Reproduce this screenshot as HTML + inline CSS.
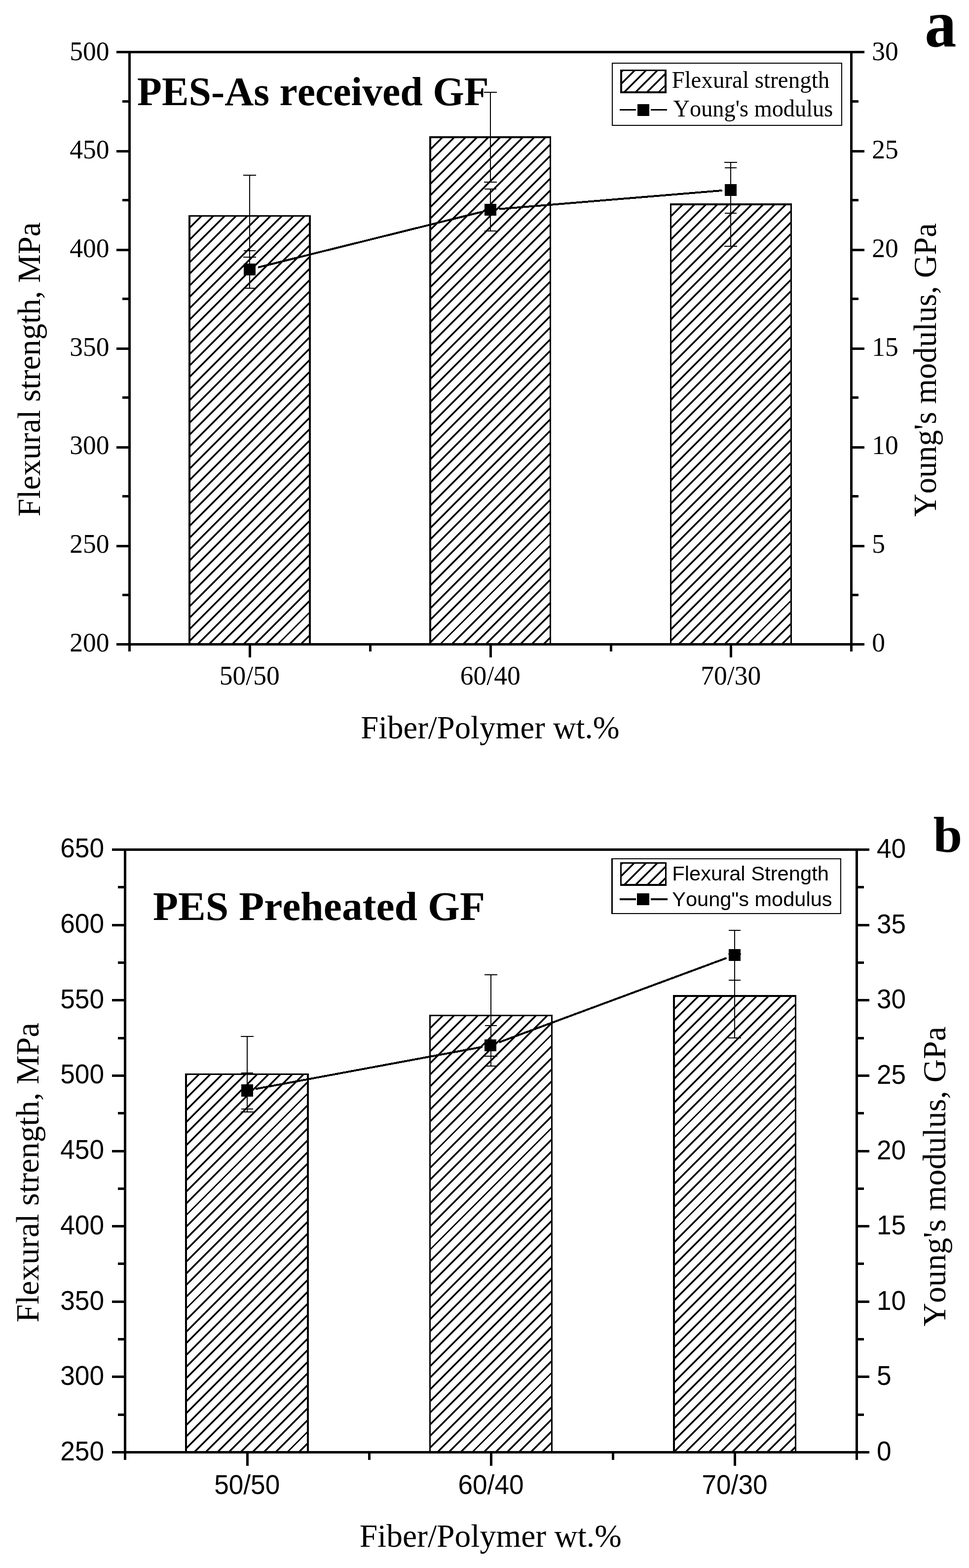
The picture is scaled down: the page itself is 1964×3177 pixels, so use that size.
<!DOCTYPE html>
<html lang="en"><head><meta charset="utf-8"><title>Flexural strength and Young's modulus of PES/GF composites</title>
<style>
html,body{margin:0;padding:0;background:#fff;}
body{width:1964px;height:3177px;overflow:hidden;}
svg{display:block;}
text{white-space:pre;font-kerning:none;}
</style></head>
<body>
<svg width="1964" height="3177" viewBox="0 0 1964 3177" fill="#000">
<rect width="1964" height="3177" fill="#fff"/>
<g id="chart-a">
<rect x="382" y="436" width="248" height="869.5" fill="#000" shape-rendering="crispEdges"/>
<rect x="386" y="439" width="240" height="866.5" fill="#fff" shape-rendering="crispEdges"/>
<clipPath id="ah0"><rect x="386" y="439" width="240" height="866.5"/></clipPath>
<path d="M380.00 419.94L632.00 167.94M380.00 443.17L632.00 191.17M380.00 466.40L632.00 214.40M380.00 489.63L632.00 237.63M380.00 512.86L632.00 260.86M380.00 536.09L632.00 284.09M380.00 559.32L632.00 307.32M380.00 582.55L632.00 330.55M380.00 605.78L632.00 353.78M380.00 629.01L632.00 377.01M380.00 652.24L632.00 400.24M380.00 675.47L632.00 423.47M380.00 698.70L632.00 446.70M380.00 721.93L632.00 469.93M380.00 745.16L632.00 493.16M380.00 768.39L632.00 516.39M380.00 791.62L632.00 539.62M380.00 814.85L632.00 562.85M380.00 838.08L632.00 586.08M380.00 861.31L632.00 609.31M380.00 884.54L632.00 632.54M380.00 907.77L632.00 655.77M380.00 931.00L632.00 679.00M380.00 954.23L632.00 702.23M380.00 977.46L632.00 725.46M380.00 1000.69L632.00 748.69M380.00 1023.92L632.00 771.92M380.00 1047.15L632.00 795.15M380.00 1070.38L632.00 818.38M380.00 1093.61L632.00 841.61M380.00 1116.84L632.00 864.84M380.00 1140.07L632.00 888.07M380.00 1163.30L632.00 911.30M380.00 1186.53L632.00 934.53M380.00 1209.76L632.00 957.76M380.00 1232.99L632.00 980.99M380.00 1256.22L632.00 1004.22M380.00 1279.45L632.00 1027.45M380.00 1302.68L632.00 1050.68M380.00 1325.91L632.00 1073.91M380.00 1349.14L632.00 1097.14M380.00 1372.37L632.00 1120.37M380.00 1395.60L632.00 1143.60M380.00 1418.83L632.00 1166.83M380.00 1442.06L632.00 1190.06M380.00 1465.29L632.00 1213.29M380.00 1488.52L632.00 1236.52M380.00 1511.75L632.00 1259.75M380.00 1534.98L632.00 1282.98M380.00 1558.21L632.00 1306.21M380.00 1581.44L632.00 1329.44" stroke="#000" stroke-width="3.5" fill="none" clip-path="url(#ah0)" shape-rendering="crispEdges"/>
<rect x="870" y="276" width="247" height="1029.5" fill="#000" shape-rendering="crispEdges"/>
<rect x="874" y="280" width="240" height="1025.5" fill="#fff" shape-rendering="crispEdges"/>
<clipPath id="ah1"><rect x="874" y="280" width="240" height="1025.5"/></clipPath>
<path d="M868.00 260.94L1120.00 8.94M868.00 284.17L1120.00 32.17M868.00 307.40L1120.00 55.40M868.00 330.63L1120.00 78.63M868.00 353.86L1120.00 101.86M868.00 377.09L1120.00 125.09M868.00 400.32L1120.00 148.32M868.00 423.55L1120.00 171.55M868.00 446.78L1120.00 194.78M868.00 470.01L1120.00 218.01M868.00 493.24L1120.00 241.24M868.00 516.47L1120.00 264.47M868.00 539.70L1120.00 287.70M868.00 562.93L1120.00 310.93M868.00 586.16L1120.00 334.16M868.00 609.39L1120.00 357.39M868.00 632.62L1120.00 380.62M868.00 655.85L1120.00 403.85M868.00 679.08L1120.00 427.08M868.00 702.31L1120.00 450.31M868.00 725.54L1120.00 473.54M868.00 748.77L1120.00 496.77M868.00 772.00L1120.00 520.00M868.00 795.23L1120.00 543.23M868.00 818.46L1120.00 566.46M868.00 841.69L1120.00 589.69M868.00 864.92L1120.00 612.92M868.00 888.15L1120.00 636.15M868.00 911.38L1120.00 659.38M868.00 934.61L1120.00 682.61M868.00 957.84L1120.00 705.84M868.00 981.07L1120.00 729.07M868.00 1004.30L1120.00 752.30M868.00 1027.53L1120.00 775.53M868.00 1050.76L1120.00 798.76M868.00 1073.99L1120.00 821.99M868.00 1097.22L1120.00 845.22M868.00 1120.45L1120.00 868.45M868.00 1143.68L1120.00 891.68M868.00 1166.91L1120.00 914.91M868.00 1190.14L1120.00 938.14M868.00 1213.37L1120.00 961.37M868.00 1236.60L1120.00 984.60M868.00 1259.83L1120.00 1007.83M868.00 1283.06L1120.00 1031.06M868.00 1306.29L1120.00 1054.29M868.00 1329.52L1120.00 1077.52M868.00 1352.75L1120.00 1100.75M868.00 1375.98L1120.00 1123.98M868.00 1399.21L1120.00 1147.21M868.00 1422.44L1120.00 1170.44M868.00 1445.67L1120.00 1193.67M868.00 1468.90L1120.00 1216.90M868.00 1492.13L1120.00 1240.13M868.00 1515.36L1120.00 1263.36M868.00 1538.59L1120.00 1286.59M868.00 1561.82L1120.00 1309.82M868.00 1585.05L1120.00 1333.05" stroke="#000" stroke-width="3.5" fill="none" clip-path="url(#ah1)" shape-rendering="crispEdges"/>
<rect x="1358" y="412" width="247" height="893.5" fill="#000" shape-rendering="crispEdges"/>
<rect x="1361" y="416" width="241" height="889.5" fill="#fff" shape-rendering="crispEdges"/>
<clipPath id="ah2"><rect x="1361" y="416" width="241" height="889.5"/></clipPath>
<path d="M1355.00 396.94L1608.00 143.94M1355.00 420.17L1608.00 167.17M1355.00 443.40L1608.00 190.40M1355.00 466.63L1608.00 213.63M1355.00 489.86L1608.00 236.86M1355.00 513.09L1608.00 260.09M1355.00 536.32L1608.00 283.32M1355.00 559.55L1608.00 306.55M1355.00 582.78L1608.00 329.78M1355.00 606.01L1608.00 353.01M1355.00 629.24L1608.00 376.24M1355.00 652.47L1608.00 399.47M1355.00 675.70L1608.00 422.70M1355.00 698.93L1608.00 445.93M1355.00 722.16L1608.00 469.16M1355.00 745.39L1608.00 492.39M1355.00 768.62L1608.00 515.62M1355.00 791.85L1608.00 538.85M1355.00 815.08L1608.00 562.08M1355.00 838.31L1608.00 585.31M1355.00 861.54L1608.00 608.54M1355.00 884.77L1608.00 631.77M1355.00 908.00L1608.00 655.00M1355.00 931.23L1608.00 678.23M1355.00 954.46L1608.00 701.46M1355.00 977.69L1608.00 724.69M1355.00 1000.92L1608.00 747.92M1355.00 1024.15L1608.00 771.15M1355.00 1047.38L1608.00 794.38M1355.00 1070.61L1608.00 817.61M1355.00 1093.84L1608.00 840.84M1355.00 1117.07L1608.00 864.07M1355.00 1140.30L1608.00 887.30M1355.00 1163.53L1608.00 910.53M1355.00 1186.76L1608.00 933.76M1355.00 1209.99L1608.00 956.99M1355.00 1233.22L1608.00 980.22M1355.00 1256.45L1608.00 1003.45M1355.00 1279.68L1608.00 1026.68M1355.00 1302.91L1608.00 1049.91M1355.00 1326.14L1608.00 1073.14M1355.00 1349.37L1608.00 1096.37M1355.00 1372.60L1608.00 1119.60M1355.00 1395.83L1608.00 1142.83M1355.00 1419.06L1608.00 1166.06M1355.00 1442.29L1608.00 1189.29M1355.00 1465.52L1608.00 1212.52M1355.00 1488.75L1608.00 1235.75M1355.00 1511.98L1608.00 1258.98M1355.00 1535.21L1608.00 1282.21M1355.00 1558.44L1608.00 1305.44M1355.00 1581.67L1608.00 1328.67" stroke="#000" stroke-width="3.5" fill="none" clip-path="url(#ah2)" shape-rendering="crispEdges"/>
<rect x="505" y="355" width="2" height="166" fill="#000" shape-rendering="crispEdges"/>
<rect x="493" y="354" width="26" height="2" fill="#000" shape-rendering="crispEdges"/>
<rect x="493" y="520" width="26" height="2" fill="#000" shape-rendering="crispEdges"/>
<rect x="993" y="187" width="2" height="182" fill="#000" shape-rendering="crispEdges"/>
<rect x="981" y="186" width="26" height="2" fill="#000" shape-rendering="crispEdges"/>
<rect x="981" y="368" width="26" height="2" fill="#000" shape-rendering="crispEdges"/>
<rect x="1480" y="329" width="2" height="170" fill="#000" shape-rendering="crispEdges"/>
<rect x="1468" y="328" width="26" height="2" fill="#000" shape-rendering="crispEdges"/>
<rect x="1468" y="498" width="26" height="2" fill="#000" shape-rendering="crispEdges"/>
<line x1="522.99" y1="541.79" x2="977.01" y2="429.21" stroke="#000" stroke-width="4" shape-rendering="crispEdges"/>
<line x1="1011.44" y1="423.55" x2="1463.56" y2="385.95" stroke="#000" stroke-width="4" shape-rendering="crispEdges"/>
<rect x="505" y="508" width="2" height="75.5" fill="#000" shape-rendering="crispEdges"/>
<rect x="494" y="507" width="24" height="2" fill="#000" shape-rendering="crispEdges"/>
<rect x="494" y="582.5" width="24" height="2" fill="#000" shape-rendering="crispEdges"/>
<rect x="494" y="534" width="24" height="24" fill="#000" shape-rendering="crispEdges"/>
<rect x="993" y="382.5" width="2" height="85.5" fill="#000" shape-rendering="crispEdges"/>
<rect x="982" y="381.5" width="24" height="2" fill="#000" shape-rendering="crispEdges"/>
<rect x="982" y="467" width="24" height="2" fill="#000" shape-rendering="crispEdges"/>
<rect x="982" y="413" width="24" height="24" fill="#000" shape-rendering="crispEdges"/>
<rect x="1480" y="340" width="2" height="91.5" fill="#000" shape-rendering="crispEdges"/>
<rect x="1469" y="339" width="24" height="2" fill="#000" shape-rendering="crispEdges"/>
<rect x="1469" y="430.5" width="24" height="2" fill="#000" shape-rendering="crispEdges"/>
<rect x="1469" y="372.5" width="24" height="24" fill="#000" shape-rendering="crispEdges"/>
<rect x="260" y="103" width="1468" height="5" fill="#000" shape-rendering="crispEdges"/>
<rect x="260" y="1303" width="1468" height="5" fill="#000" shape-rendering="crispEdges"/>
<rect x="260" y="103" width="5" height="1205" fill="#000" shape-rendering="crispEdges"/>
<rect x="1723" y="103" width="5" height="1205" fill="#000" shape-rendering="crispEdges"/>
<rect x="236" y="103" width="24" height="5" fill="#000" shape-rendering="crispEdges"/>
<rect x="1728" y="103" width="24" height="5" fill="#000" shape-rendering="crispEdges"/>
<rect x="248" y="203" width="12" height="5" fill="#000" shape-rendering="crispEdges"/>
<rect x="1728" y="203" width="12" height="5" fill="#000" shape-rendering="crispEdges"/>
<rect x="236" y="304" width="24" height="5" fill="#000" shape-rendering="crispEdges"/>
<rect x="1728" y="304" width="24" height="5" fill="#000" shape-rendering="crispEdges"/>
<rect x="248" y="403" width="12" height="5" fill="#000" shape-rendering="crispEdges"/>
<rect x="1728" y="403" width="12" height="5" fill="#000" shape-rendering="crispEdges"/>
<rect x="236" y="504" width="24" height="5" fill="#000" shape-rendering="crispEdges"/>
<rect x="1728" y="504" width="24" height="5" fill="#000" shape-rendering="crispEdges"/>
<rect x="248" y="603" width="12" height="5" fill="#000" shape-rendering="crispEdges"/>
<rect x="1728" y="603" width="12" height="5" fill="#000" shape-rendering="crispEdges"/>
<rect x="236" y="704" width="24" height="5" fill="#000" shape-rendering="crispEdges"/>
<rect x="1728" y="704" width="24" height="5" fill="#000" shape-rendering="crispEdges"/>
<rect x="248" y="803" width="12" height="5" fill="#000" shape-rendering="crispEdges"/>
<rect x="1728" y="803" width="12" height="5" fill="#000" shape-rendering="crispEdges"/>
<rect x="236" y="904" width="24" height="5" fill="#000" shape-rendering="crispEdges"/>
<rect x="1728" y="904" width="24" height="5" fill="#000" shape-rendering="crispEdges"/>
<rect x="248" y="1003" width="12" height="5" fill="#000" shape-rendering="crispEdges"/>
<rect x="1728" y="1003" width="12" height="5" fill="#000" shape-rendering="crispEdges"/>
<rect x="236" y="1104" width="24" height="5" fill="#000" shape-rendering="crispEdges"/>
<rect x="1728" y="1104" width="24" height="5" fill="#000" shape-rendering="crispEdges"/>
<rect x="248" y="1203" width="12" height="5" fill="#000" shape-rendering="crispEdges"/>
<rect x="1728" y="1203" width="12" height="5" fill="#000" shape-rendering="crispEdges"/>
<rect x="236" y="1303" width="24" height="5" fill="#000" shape-rendering="crispEdges"/>
<rect x="1728" y="1303" width="24" height="5" fill="#000" shape-rendering="crispEdges"/>
<rect x="504" y="1308" width="5" height="24" fill="#000" shape-rendering="crispEdges"/>
<rect x="992" y="1308" width="5" height="24" fill="#000" shape-rendering="crispEdges"/>
<rect x="1479" y="1308" width="5" height="24" fill="#000" shape-rendering="crispEdges"/>
<rect x="260" y="1308" width="5" height="12" fill="#000" shape-rendering="crispEdges"/>
<rect x="748" y="1308" width="5" height="12" fill="#000" shape-rendering="crispEdges"/>
<rect x="1236" y="1308" width="5" height="12" fill="#000" shape-rendering="crispEdges"/>
<rect x="1723" y="1308" width="5" height="12" fill="#000" shape-rendering="crispEdges"/>
<text transform="translate(221.6 121.65) scale(0.98 1)" font-family="'Liberation Serif', serif" font-size="54.6" text-anchor="end">500</text>
<text transform="translate(1767.2 121.65) scale(0.98 1)" font-family="'Liberation Serif', serif" font-size="54.6">30</text>
<text transform="translate(221.6 321.32) scale(0.98 1)" font-family="'Liberation Serif', serif" font-size="54.6" text-anchor="end">450</text>
<text transform="translate(1767.2 321.32) scale(0.98 1)" font-family="'Liberation Serif', serif" font-size="54.6">25</text>
<text transform="translate(221.6 520.99) scale(0.98 1)" font-family="'Liberation Serif', serif" font-size="54.6" text-anchor="end">400</text>
<text transform="translate(1767.2 520.99) scale(0.98 1)" font-family="'Liberation Serif', serif" font-size="54.6">20</text>
<text transform="translate(221.6 720.66) scale(0.98 1)" font-family="'Liberation Serif', serif" font-size="54.6" text-anchor="end">350</text>
<text transform="translate(1767.2 720.66) scale(0.98 1)" font-family="'Liberation Serif', serif" font-size="54.6">15</text>
<text transform="translate(221.6 920.33) scale(0.98 1)" font-family="'Liberation Serif', serif" font-size="54.6" text-anchor="end">300</text>
<text transform="translate(1767.2 920.33) scale(0.98 1)" font-family="'Liberation Serif', serif" font-size="54.6">10</text>
<text transform="translate(221.6 1120) scale(0.98 1)" font-family="'Liberation Serif', serif" font-size="54.6" text-anchor="end">250</text>
<text transform="translate(1767.2 1120) scale(0.98 1)" font-family="'Liberation Serif', serif" font-size="54.6">5</text>
<text transform="translate(221.6 1319.67) scale(0.98 1)" font-family="'Liberation Serif', serif" font-size="54.6" text-anchor="end">200</text>
<text transform="translate(1767.2 1319.67) scale(0.98 1)" font-family="'Liberation Serif', serif" font-size="54.6">0</text>
<text transform="translate(505.8 1386.6) scale(0.98 1)" font-family="'Liberation Serif', serif" font-size="54.6" text-anchor="middle">50/50</text>
<text transform="translate(993.8 1386.6) scale(0.98 1)" font-family="'Liberation Serif', serif" font-size="54.6" text-anchor="middle">60/40</text>
<text transform="translate(1481.3 1386.6) scale(0.98 1)" font-family="'Liberation Serif', serif" font-size="54.6" text-anchor="middle">70/30</text>
<rect x="1240" y="127" width="467" height="128" fill="#000" shape-rendering="crispEdges"/>
<rect x="1242" y="129" width="463" height="124" fill="#fff" shape-rendering="crispEdges"/>
<rect x="1257" y="141" width="94" height="48" fill="#000" shape-rendering="crispEdges"/>
<rect x="1261" y="144" width="86" height="41" fill="#fff" shape-rendering="crispEdges"/>
<clipPath id="alg"><rect x="1261" y="144" width="86" height="41"/></clipPath>
<path d="M1255.00 103.88L1353.00 5.88M1255.00 127.11L1353.00 29.11M1255.00 150.34L1353.00 52.34M1255.00 173.57L1353.00 75.57M1255.00 196.80L1353.00 98.80M1255.00 220.03L1353.00 122.03M1255.00 243.26L1353.00 145.26M1255.00 266.49L1353.00 168.49M1255.00 289.72L1353.00 191.72M1255.00 312.95L1353.00 214.95" stroke="#000" stroke-width="3.5" fill="none" clip-path="url(#alg)" shape-rendering="crispEdges"/>
<rect x="1256" y="221" width="33" height="3" fill="#000" shape-rendering="crispEdges"/>
<rect x="1319" y="221" width="33" height="3" fill="#000" shape-rendering="crispEdges"/>
<rect x="1292" y="211" width="24" height="24" fill="#000" shape-rendering="crispEdges"/>
<text transform="translate(731.3 1495.7)" font-family="'Liberation Serif', serif" font-size="65" textLength="524.3" lengthAdjust="spacingAndGlyphs">Fiber/Polymer wt.%</text>
<text transform="translate(81 1046.5) rotate(-90)" font-family="'Liberation Serif', serif" font-size="65" textLength="596" lengthAdjust="spacingAndGlyphs">Flexural strength, MPa</text>
<text transform="translate(1897 1047) rotate(-90)" font-family="'Liberation Serif', serif" font-size="65" textLength="595" lengthAdjust="spacingAndGlyphs">Young's modulus, GPa</text>
<text transform="translate(278.1 212.5)" font-family="'Liberation Serif', serif" font-size="81.5" font-weight="bold" textLength="712.5" lengthAdjust="spacingAndGlyphs">PES-As received GF</text>
<text transform="translate(1874.3 94) scale(0.944 1)" font-family="'Liberation Serif', serif" font-size="136" font-weight="bold">a</text>
<text transform="translate(1361.4 177.9)" font-family="'Liberation Serif', serif" font-size="48" textLength="319.8" lengthAdjust="spacingAndGlyphs">Flexural strength</text>
<text transform="translate(1364.6 235.8)" font-family="'Liberation Serif', serif" font-size="48" textLength="323.6" lengthAdjust="spacingAndGlyphs">Young's modulus</text>
</g>
<g id="chart-b">
<rect x="375" y="2175" width="251" height="767.5" fill="#000" shape-rendering="crispEdges"/>
<rect x="379" y="2178" width="243" height="764.5" fill="#fff" shape-rendering="crispEdges"/>
<clipPath id="bh0"><rect x="379" y="2178" width="243" height="764.5"/></clipPath>
<path d="M373.00 2159.46L628.00 1904.46M373.00 2183.08L628.00 1928.08M373.00 2206.70L628.00 1951.70M373.00 2230.32L628.00 1975.32M373.00 2253.94L628.00 1998.94M373.00 2277.56L628.00 2022.56M373.00 2301.18L628.00 2046.18M373.00 2324.80L628.00 2069.80M373.00 2348.42L628.00 2093.42M373.00 2372.04L628.00 2117.04M373.00 2395.66L628.00 2140.66M373.00 2419.28L628.00 2164.28M373.00 2442.90L628.00 2187.90M373.00 2466.52L628.00 2211.52M373.00 2490.14L628.00 2235.14M373.00 2513.76L628.00 2258.76M373.00 2537.38L628.00 2282.38M373.00 2561.00L628.00 2306.00M373.00 2584.62L628.00 2329.62M373.00 2608.24L628.00 2353.24M373.00 2631.86L628.00 2376.86M373.00 2655.48L628.00 2400.48M373.00 2679.10L628.00 2424.10M373.00 2702.72L628.00 2447.72M373.00 2726.34L628.00 2471.34M373.00 2749.96L628.00 2494.96M373.00 2773.58L628.00 2518.58M373.00 2797.20L628.00 2542.20M373.00 2820.82L628.00 2565.82M373.00 2844.44L628.00 2589.44M373.00 2868.06L628.00 2613.06M373.00 2891.68L628.00 2636.68M373.00 2915.30L628.00 2660.30M373.00 2938.92L628.00 2683.92M373.00 2962.54L628.00 2707.54M373.00 2986.16L628.00 2731.16M373.00 3009.78L628.00 2754.78M373.00 3033.40L628.00 2778.40M373.00 3057.02L628.00 2802.02M373.00 3080.64L628.00 2825.64M373.00 3104.26L628.00 2849.26M373.00 3127.88L628.00 2872.88M373.00 3151.50L628.00 2896.50M373.00 3175.12L628.00 2920.12M373.00 3198.74L628.00 2943.74M373.00 3222.36L628.00 2967.36" stroke="#000" stroke-width="3.5" fill="none" clip-path="url(#bh0)" shape-rendering="crispEdges"/>
<rect x="870" y="2056" width="250" height="886.5" fill="#000" shape-rendering="crispEdges"/>
<rect x="873" y="2059" width="244" height="883.5" fill="#fff" shape-rendering="crispEdges"/>
<clipPath id="bh1"><rect x="873" y="2059" width="244" height="883.5"/></clipPath>
<path d="M867.00 2040.46L1123.00 1784.46M867.00 2064.08L1123.00 1808.08M867.00 2087.70L1123.00 1831.70M867.00 2111.32L1123.00 1855.32M867.00 2134.94L1123.00 1878.94M867.00 2158.56L1123.00 1902.56M867.00 2182.18L1123.00 1926.18M867.00 2205.80L1123.00 1949.80M867.00 2229.42L1123.00 1973.42M867.00 2253.04L1123.00 1997.04M867.00 2276.66L1123.00 2020.66M867.00 2300.28L1123.00 2044.28M867.00 2323.90L1123.00 2067.90M867.00 2347.52L1123.00 2091.52M867.00 2371.14L1123.00 2115.14M867.00 2394.76L1123.00 2138.76M867.00 2418.38L1123.00 2162.38M867.00 2442.00L1123.00 2186.00M867.00 2465.62L1123.00 2209.62M867.00 2489.24L1123.00 2233.24M867.00 2512.86L1123.00 2256.86M867.00 2536.48L1123.00 2280.48M867.00 2560.10L1123.00 2304.10M867.00 2583.72L1123.00 2327.72M867.00 2607.34L1123.00 2351.34M867.00 2630.96L1123.00 2374.96M867.00 2654.58L1123.00 2398.58M867.00 2678.20L1123.00 2422.20M867.00 2701.82L1123.00 2445.82M867.00 2725.44L1123.00 2469.44M867.00 2749.06L1123.00 2493.06M867.00 2772.68L1123.00 2516.68M867.00 2796.30L1123.00 2540.30M867.00 2819.92L1123.00 2563.92M867.00 2843.54L1123.00 2587.54M867.00 2867.16L1123.00 2611.16M867.00 2890.78L1123.00 2634.78M867.00 2914.40L1123.00 2658.40M867.00 2938.02L1123.00 2682.02M867.00 2961.64L1123.00 2705.64M867.00 2985.26L1123.00 2729.26M867.00 3008.88L1123.00 2752.88M867.00 3032.50L1123.00 2776.50M867.00 3056.12L1123.00 2800.12M867.00 3079.74L1123.00 2823.74M867.00 3103.36L1123.00 2847.36M867.00 3126.98L1123.00 2870.98M867.00 3150.60L1123.00 2894.60M867.00 3174.22L1123.00 2918.22M867.00 3197.84L1123.00 2941.84M867.00 3221.46L1123.00 2965.46" stroke="#000" stroke-width="3.5" fill="none" clip-path="url(#bh1)" shape-rendering="crispEdges"/>
<rect x="1364" y="2016" width="250" height="926.5" fill="#000" shape-rendering="crispEdges"/>
<rect x="1368" y="2020" width="243" height="922.5" fill="#fff" shape-rendering="crispEdges"/>
<clipPath id="bh2"><rect x="1368" y="2020" width="243" height="922.5"/></clipPath>
<path d="M1362.00 2001.46L1617.00 1746.46M1362.00 2025.08L1617.00 1770.08M1362.00 2048.70L1617.00 1793.70M1362.00 2072.32L1617.00 1817.32M1362.00 2095.94L1617.00 1840.94M1362.00 2119.56L1617.00 1864.56M1362.00 2143.18L1617.00 1888.18M1362.00 2166.80L1617.00 1911.80M1362.00 2190.42L1617.00 1935.42M1362.00 2214.04L1617.00 1959.04M1362.00 2237.66L1617.00 1982.66M1362.00 2261.28L1617.00 2006.28M1362.00 2284.90L1617.00 2029.90M1362.00 2308.52L1617.00 2053.52M1362.00 2332.14L1617.00 2077.14M1362.00 2355.76L1617.00 2100.76M1362.00 2379.38L1617.00 2124.38M1362.00 2403.00L1617.00 2148.00M1362.00 2426.62L1617.00 2171.62M1362.00 2450.24L1617.00 2195.24M1362.00 2473.86L1617.00 2218.86M1362.00 2497.48L1617.00 2242.48M1362.00 2521.10L1617.00 2266.10M1362.00 2544.72L1617.00 2289.72M1362.00 2568.34L1617.00 2313.34M1362.00 2591.96L1617.00 2336.96M1362.00 2615.58L1617.00 2360.58M1362.00 2639.20L1617.00 2384.20M1362.00 2662.82L1617.00 2407.82M1362.00 2686.44L1617.00 2431.44M1362.00 2710.06L1617.00 2455.06M1362.00 2733.68L1617.00 2478.68M1362.00 2757.30L1617.00 2502.30M1362.00 2780.92L1617.00 2525.92M1362.00 2804.54L1617.00 2549.54M1362.00 2828.16L1617.00 2573.16M1362.00 2851.78L1617.00 2596.78M1362.00 2875.40L1617.00 2620.40M1362.00 2899.02L1617.00 2644.02M1362.00 2922.64L1617.00 2667.64M1362.00 2946.26L1617.00 2691.26M1362.00 2969.88L1617.00 2714.88M1362.00 2993.50L1617.00 2738.50M1362.00 3017.12L1617.00 2762.12M1362.00 3040.74L1617.00 2785.74M1362.00 3064.36L1617.00 2809.36M1362.00 3087.98L1617.00 2832.98M1362.00 3111.60L1617.00 2856.60M1362.00 3135.22L1617.00 2880.22M1362.00 3158.84L1617.00 2903.84M1362.00 3182.46L1617.00 2927.46M1362.00 3206.08L1617.00 2951.08M1362.00 3229.70L1617.00 2974.70" stroke="#000" stroke-width="3.5" fill="none" clip-path="url(#bh2)" shape-rendering="crispEdges"/>
<rect x="500" y="2100" width="2" height="153" fill="#000" shape-rendering="crispEdges"/>
<rect x="488" y="2099" width="26" height="2" fill="#000" shape-rendering="crispEdges"/>
<rect x="488" y="2252" width="26" height="2" fill="#000" shape-rendering="crispEdges"/>
<rect x="994" y="1975" width="2" height="165" fill="#000" shape-rendering="crispEdges"/>
<rect x="982" y="1974" width="26" height="2" fill="#000" shape-rendering="crispEdges"/>
<rect x="982" y="2139" width="26" height="2" fill="#000" shape-rendering="crispEdges"/>
<rect x="1488" y="1933" width="2" height="170" fill="#000" shape-rendering="crispEdges"/>
<rect x="1476" y="1932" width="26" height="2" fill="#000" shape-rendering="crispEdges"/>
<rect x="1476" y="2102" width="26" height="2" fill="#000" shape-rendering="crispEdges"/>
<line x1="518.21" y1="2206.31" x2="977.79" y2="2121.19" stroke="#000" stroke-width="4" shape-rendering="crispEdges"/>
<line x1="1011.41" y1="2111.92" x2="1472.59" y2="1941.08" stroke="#000" stroke-width="4" shape-rendering="crispEdges"/>
<rect x="500" y="2173.5" width="2" height="73.5" fill="#000" shape-rendering="crispEdges"/>
<rect x="489" y="2172.5" width="24" height="2" fill="#000" shape-rendering="crispEdges"/>
<rect x="489" y="2246" width="24" height="2" fill="#000" shape-rendering="crispEdges"/>
<rect x="489" y="2197" width="24" height="25" fill="#000" shape-rendering="crispEdges"/>
<rect x="994" y="2078" width="2" height="82" fill="#000" shape-rendering="crispEdges"/>
<rect x="983" y="2077" width="24" height="2" fill="#000" shape-rendering="crispEdges"/>
<rect x="983" y="2159" width="24" height="2" fill="#000" shape-rendering="crispEdges"/>
<rect x="982" y="2106" width="24" height="24" fill="#000" shape-rendering="crispEdges"/>
<rect x="1488" y="1885" width="2" height="101" fill="#000" shape-rendering="crispEdges"/>
<rect x="1477" y="1884" width="24" height="2" fill="#000" shape-rendering="crispEdges"/>
<rect x="1477" y="1985" width="24" height="2" fill="#000" shape-rendering="crispEdges"/>
<rect x="1477" y="1923" width="24" height="24" fill="#000" shape-rendering="crispEdges"/>
<rect x="251" y="1719" width="1488" height="5" fill="#000" shape-rendering="crispEdges"/>
<rect x="251" y="2940" width="1488" height="5" fill="#000" shape-rendering="crispEdges"/>
<rect x="251" y="1719" width="5" height="1226" fill="#000" shape-rendering="crispEdges"/>
<rect x="1734" y="1719" width="5" height="1226" fill="#000" shape-rendering="crispEdges"/>
<rect x="227" y="1719" width="24" height="5" fill="#000" shape-rendering="crispEdges"/>
<rect x="1739" y="1719" width="23" height="5" fill="#000" shape-rendering="crispEdges"/>
<rect x="239" y="1795" width="12" height="5" fill="#000" shape-rendering="crispEdges"/>
<rect x="1739" y="1795" width="12" height="5" fill="#000" shape-rendering="crispEdges"/>
<rect x="227" y="1872" width="24" height="5" fill="#000" shape-rendering="crispEdges"/>
<rect x="1739" y="1872" width="23" height="5" fill="#000" shape-rendering="crispEdges"/>
<rect x="239" y="1948" width="12" height="5" fill="#000" shape-rendering="crispEdges"/>
<rect x="1739" y="1948" width="12" height="5" fill="#000" shape-rendering="crispEdges"/>
<rect x="227" y="2024" width="24" height="5" fill="#000" shape-rendering="crispEdges"/>
<rect x="1739" y="2024" width="23" height="5" fill="#000" shape-rendering="crispEdges"/>
<rect x="239" y="2101" width="12" height="5" fill="#000" shape-rendering="crispEdges"/>
<rect x="1739" y="2101" width="12" height="5" fill="#000" shape-rendering="crispEdges"/>
<rect x="227" y="2177" width="24" height="5" fill="#000" shape-rendering="crispEdges"/>
<rect x="1739" y="2177" width="23" height="5" fill="#000" shape-rendering="crispEdges"/>
<rect x="239" y="2253" width="12" height="5" fill="#000" shape-rendering="crispEdges"/>
<rect x="1739" y="2253" width="12" height="5" fill="#000" shape-rendering="crispEdges"/>
<rect x="227" y="2330" width="24" height="5" fill="#000" shape-rendering="crispEdges"/>
<rect x="1739" y="2330" width="23" height="5" fill="#000" shape-rendering="crispEdges"/>
<rect x="239" y="2406" width="12" height="5" fill="#000" shape-rendering="crispEdges"/>
<rect x="1739" y="2406" width="12" height="5" fill="#000" shape-rendering="crispEdges"/>
<rect x="227" y="2482" width="24" height="5" fill="#000" shape-rendering="crispEdges"/>
<rect x="1739" y="2482" width="23" height="5" fill="#000" shape-rendering="crispEdges"/>
<rect x="239" y="2558" width="12" height="5" fill="#000" shape-rendering="crispEdges"/>
<rect x="1739" y="2558" width="12" height="5" fill="#000" shape-rendering="crispEdges"/>
<rect x="227" y="2635" width="24" height="5" fill="#000" shape-rendering="crispEdges"/>
<rect x="1739" y="2635" width="23" height="5" fill="#000" shape-rendering="crispEdges"/>
<rect x="239" y="2711" width="12" height="5" fill="#000" shape-rendering="crispEdges"/>
<rect x="1739" y="2711" width="12" height="5" fill="#000" shape-rendering="crispEdges"/>
<rect x="227" y="2787" width="24" height="5" fill="#000" shape-rendering="crispEdges"/>
<rect x="1739" y="2787" width="23" height="5" fill="#000" shape-rendering="crispEdges"/>
<rect x="239" y="2864" width="12" height="5" fill="#000" shape-rendering="crispEdges"/>
<rect x="1739" y="2864" width="12" height="5" fill="#000" shape-rendering="crispEdges"/>
<rect x="227" y="2940" width="24" height="5" fill="#000" shape-rendering="crispEdges"/>
<rect x="1739" y="2940" width="23" height="5" fill="#000" shape-rendering="crispEdges"/>
<rect x="499" y="2945" width="5" height="25" fill="#000" shape-rendering="crispEdges"/>
<rect x="993" y="2945" width="5" height="25" fill="#000" shape-rendering="crispEdges"/>
<rect x="1487" y="2945" width="5" height="25" fill="#000" shape-rendering="crispEdges"/>
<rect x="251" y="2945" width="5" height="13" fill="#000" shape-rendering="crispEdges"/>
<rect x="746" y="2945" width="5" height="13" fill="#000" shape-rendering="crispEdges"/>
<rect x="1240" y="2945" width="5" height="13" fill="#000" shape-rendering="crispEdges"/>
<rect x="1734" y="2945" width="5" height="13" fill="#000" shape-rendering="crispEdges"/>
<text transform="translate(211 1737.1) scale(0.96 1)" font-family="'Liberation Sans', sans-serif" font-size="55.4" text-anchor="end">650</text>
<text transform="translate(1777 1738) scale(0.96 1)" font-family="'Liberation Sans', sans-serif" font-size="55.4">40</text>
<text transform="translate(211 1889.85) scale(0.96 1)" font-family="'Liberation Sans', sans-serif" font-size="55.4" text-anchor="end">600</text>
<text transform="translate(1777 1890.62) scale(0.96 1)" font-family="'Liberation Sans', sans-serif" font-size="55.4">35</text>
<text transform="translate(211 2042.6) scale(0.96 1)" font-family="'Liberation Sans', sans-serif" font-size="55.4" text-anchor="end">550</text>
<text transform="translate(1777 2043.25) scale(0.96 1)" font-family="'Liberation Sans', sans-serif" font-size="55.4">30</text>
<text transform="translate(211 2195.35) scale(0.96 1)" font-family="'Liberation Sans', sans-serif" font-size="55.4" text-anchor="end">500</text>
<text transform="translate(1777 2195.88) scale(0.96 1)" font-family="'Liberation Sans', sans-serif" font-size="55.4">25</text>
<text transform="translate(211 2348.1) scale(0.96 1)" font-family="'Liberation Sans', sans-serif" font-size="55.4" text-anchor="end">450</text>
<text transform="translate(1777 2348.5) scale(0.96 1)" font-family="'Liberation Sans', sans-serif" font-size="55.4">20</text>
<text transform="translate(211 2500.85) scale(0.96 1)" font-family="'Liberation Sans', sans-serif" font-size="55.4" text-anchor="end">400</text>
<text transform="translate(1777 2501.12) scale(0.96 1)" font-family="'Liberation Sans', sans-serif" font-size="55.4">15</text>
<text transform="translate(211 2653.6) scale(0.96 1)" font-family="'Liberation Sans', sans-serif" font-size="55.4" text-anchor="end">350</text>
<text transform="translate(1777 2653.75) scale(0.96 1)" font-family="'Liberation Sans', sans-serif" font-size="55.4">10</text>
<text transform="translate(211 2806.35) scale(0.96 1)" font-family="'Liberation Sans', sans-serif" font-size="55.4" text-anchor="end">300</text>
<text transform="translate(1777 2806.38) scale(0.96 1)" font-family="'Liberation Sans', sans-serif" font-size="55.4">5</text>
<text transform="translate(211 2959.1) scale(0.96 1)" font-family="'Liberation Sans', sans-serif" font-size="55.4" text-anchor="end">250</text>
<text transform="translate(1777 2959) scale(0.96 1)" font-family="'Liberation Sans', sans-serif" font-size="55.4">0</text>
<text transform="translate(500.7 3026.6) scale(0.96 1)" font-family="'Liberation Sans', sans-serif" font-size="55.4" text-anchor="middle">50/50</text>
<text transform="translate(995 3026.6) scale(0.96 1)" font-family="'Liberation Sans', sans-serif" font-size="55.4" text-anchor="middle">60/40</text>
<text transform="translate(1489 3026.6) scale(0.96 1)" font-family="'Liberation Sans', sans-serif" font-size="55.4" text-anchor="middle">70/30</text>
<rect x="1239" y="1739" width="466" height="113" fill="#000" shape-rendering="crispEdges"/>
<rect x="1242" y="1741" width="461" height="109" fill="#fff" shape-rendering="crispEdges"/>
<rect x="1257" y="1747" width="94" height="48" fill="#000" shape-rendering="crispEdges"/>
<rect x="1260" y="1750" width="88" height="41" fill="#fff" shape-rendering="crispEdges"/>
<clipPath id="blg"><rect x="1260" y="1750" width="88" height="41"/></clipPath>
<path d="M1254.00 1709.12L1354.00 1609.12M1254.00 1732.74L1354.00 1632.74M1254.00 1756.36L1354.00 1656.36M1254.00 1779.98L1354.00 1679.98M1254.00 1803.60L1354.00 1703.60M1254.00 1827.22L1354.00 1727.22M1254.00 1850.84L1354.00 1750.84M1254.00 1874.46L1354.00 1774.46M1254.00 1898.08L1354.00 1798.08M1254.00 1921.70L1354.00 1821.70" stroke="#000" stroke-width="3.5" fill="none" clip-path="url(#blg)" shape-rendering="crispEdges"/>
<rect x="1256" y="1820" width="33" height="4" fill="#000" shape-rendering="crispEdges"/>
<rect x="1319" y="1820" width="34" height="4" fill="#000" shape-rendering="crispEdges"/>
<rect x="1291" y="1810" width="25" height="24" fill="#000" shape-rendering="crispEdges"/>
<text transform="translate(728.7 3133.7)" font-family="'Liberation Serif', serif" font-size="66" textLength="531.1" lengthAdjust="spacingAndGlyphs">Fiber/Polymer wt.%</text>
<text transform="translate(77.9 2679.5) rotate(-90)" font-family="'Liberation Serif', serif" font-size="66" textLength="607.2" lengthAdjust="spacingAndGlyphs">Flexural strength, MPa</text>
<text transform="translate(1915.9 2687.6) rotate(-90)" font-family="'Liberation Serif', serif" font-size="66" textLength="607.7" lengthAdjust="spacingAndGlyphs">Young's modulus, GPa</text>
<text transform="translate(310 1863.6)" font-family="'Liberation Serif', serif" font-size="82.5" font-weight="bold" textLength="673" lengthAdjust="spacingAndGlyphs">PES Preheated GF</text>
<text transform="translate(1891.4 1726.4) scale(1.03 1)" font-family="'Liberation Serif', serif" font-size="102.6" font-weight="bold">b</text>
<text transform="translate(1362.2 1783.7)" font-family="'Liberation Sans', sans-serif" font-size="41.5" textLength="317.8" lengthAdjust="spacingAndGlyphs">Flexural Strength</text>
<text transform="translate(1362.2 1835.6)" font-family="'Liberation Sans', sans-serif" font-size="41.5" textLength="324.4" lengthAdjust="spacingAndGlyphs">Young"s modulus</text>
</g>
</svg>
</body></html>
